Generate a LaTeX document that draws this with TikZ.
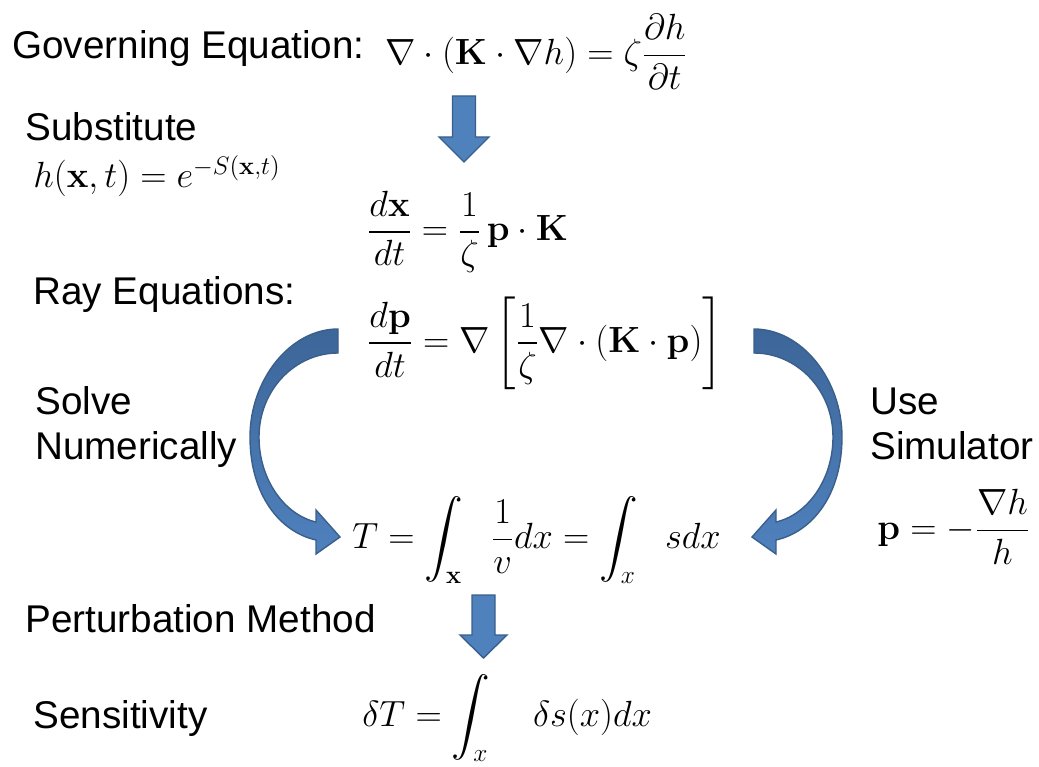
\documentclass[tikz,border=0pt]{standalone}
\usepackage{amsmath}
\usepackage{amssymb}
\usepackage[no-math]{fontspec}
\setmainfont{Liberation Sans}
\usepackage{tikz}
\usetikzlibrary{positioning,calc}
\definecolor{arrowblue}{HTML}{4F81BD}
\definecolor{arrowdark}{HTML}{3D6699}
\definecolor{arrowedge}{HTML}{3A5F8B}

\begin{document}
\begin{tikzpicture}[x=0.02cm,y=-0.02cm,
    every node/.style={font=\fontsize{22}{26}\selectfont,inner sep=0pt},
    lbl/.style={anchor=base west},
    eqn/.style={anchor=west},
    blockarrow/.style={fill=arrowblue,draw=arrowedge,line width=0.8pt,line join=miter},
    bentarrow/.style={top color=arrowdark,bottom color=arrowblue,draw=arrowedge,line width=0.8pt}]
  \useasboundingbox (0,0) rectangle (1039,767);

  % labels on the left
  \node[lbl] (govlbl) at (12,59) {Governing Equation:};
  \node[lbl] (sublbl) at (25,141) {Substitute};
  \node[lbl] (raylbl) at (33,304) {Ray Equations:};
  \node[lbl] (solve)  at (35,414) {Solve};
  \node[lbl] (numer)  at (35,459) {Numerically};
  \node[lbl] (pertlbl) at (25,632) {Perturbation Method};
  \node[lbl] (senslbl) at (33,728) {Sensitivity};
  % labels on the right
  \node[lbl] (use) at (870,414) {Use};
  \node[lbl] (simu) at (870,459) {Simulator};

  % equations
  \node[eqn] (goveq) at (385,52) {$\displaystyle \nabla\cdot(\mathbf{K}\cdot\nabla h)=\zeta\frac{\partial h}{\partial t}$};
  \node[lbl] (subeq) at (33,188) {$h(\mathbf{x},t)=e^{-S(\mathbf{x},t)}$};
  \node[eqn] (rayx) at (367,232) {$\displaystyle \frac{d\mathbf{x}}{dt}=\frac{1}{\zeta}\,\mathbf{p}\cdot\mathbf{K}$};
  \node[eqn] (rayp) at (367,343) {$\displaystyle \frac{d\mathbf{p}}{dt}=\nabla\left[\frac{1}{\zeta}\nabla\cdot(\mathbf{K}\cdot\mathbf{p})\right]$};
  \node[eqn] (pgrad) at (877,527) {$\displaystyle \mathbf{p}=-\frac{\nabla h}{h}$};
  \node[eqn] (teq) at (352,540) {$\displaystyle T=\int_{\mathbf{x}}\hspace{0.6em}\frac{1}{v}dx=\int_{x}\hspace{0.6em}sdx$};
  \node[eqn] (dteq) at (362,718) {$\displaystyle \delta T=\int_{x}\quad\delta s(x)dx$};

  % block arrows
  \draw[blockarrow] (452.5,96) -- (475.5,96) -- (475.5,137) -- (489,137)
        -- (464,162) -- (439,137) -- (452.5,137) -- cycle;
  \draw[blockarrow] (472,595) -- (495,595) -- (495,635) -- (507,635)
        -- (483.5,658) -- (460,635) -- (472,635) -- cycle;

  % bent arrows
  \draw[bentarrow] (338,329) .. controls (290,329) and (250,380) .. (250,437)
        .. controls (250,495) and (280,532) .. (316,540)
        -- (316,554) -- (340,537) -- (316,510) -- (316,522)
        .. controls (285,515) and (259,480) .. (259,437)
        .. controls (259,390) and (295,353) .. (338,353) -- cycle;
  \draw[bentarrow] (754,329) .. controls (802,329) and (842,380) .. (842,437)
        .. controls (842,495) and (812,532) .. (776,540)
        -- (776,554) -- (752,537) -- (776,510) -- (776,522)
        .. controls (807,515) and (833,480) .. (833,437)
        .. controls (833,390) and (797,353) .. (754,353) -- cycle;
\end{tikzpicture}
\end{document}
